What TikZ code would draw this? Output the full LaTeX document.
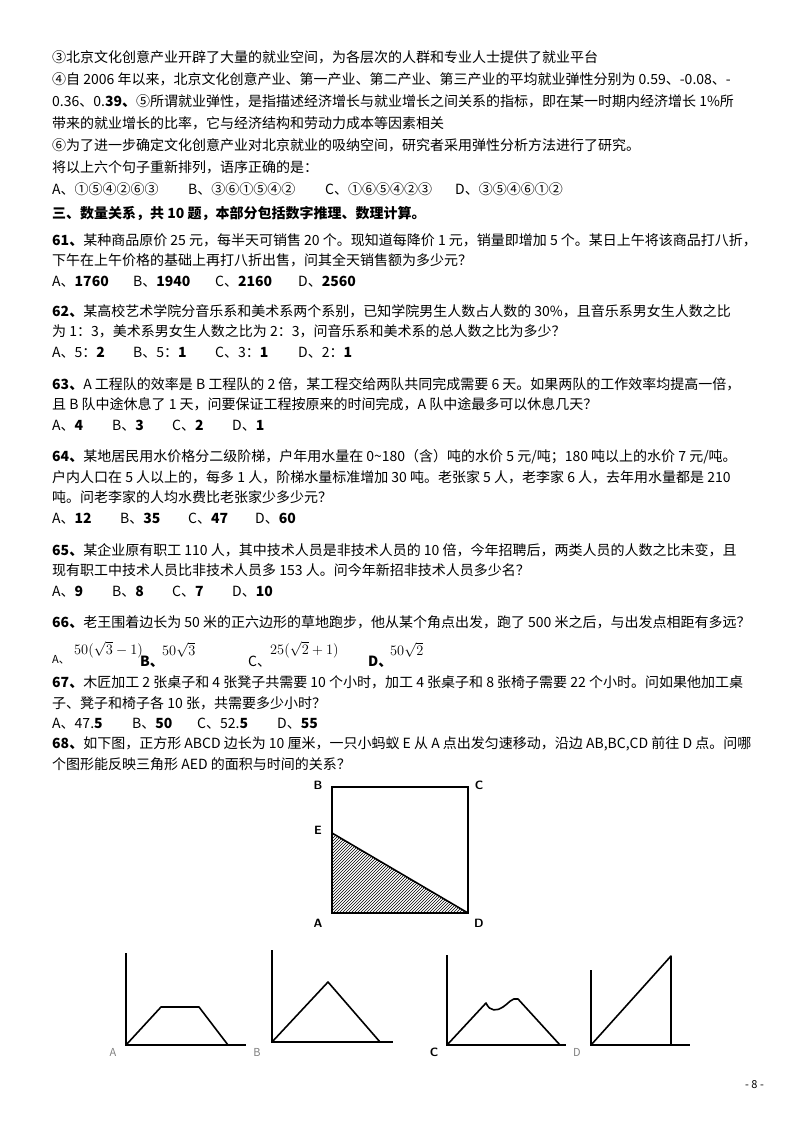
\documentclass[tikz,border=0pt]{standalone}
\usepackage{fontspec}
\setmainfont{Noto Sans CJK SC}
\usetikzlibrary{patterns}
\begin{document}
\begin{tikzpicture}[x=1pt,y=-1pt,
  t/.style={anchor=west,inner sep=0,font=\fontsize{14}{16}\selectfont},
  ax/.style={line width=2.2pt},
  cv/.style={line width=1.6pt,line join=round},
  lb/.style={font=\sffamily\bfseries\fontsize{12}{12}\selectfont,inner sep=0},
  gl/.style={font=\fontsize{11}{12}\selectfont,inner sep=0}]
\useasboundingbox (0,0) rectangle (800,1132);
\def\L#1#2#3{\node[t] at (#1,#2) {#3};}
\L{52}{57}{③北京文化创意产业开辟了大量的就业空间，为各层次的人群和专业人士提供了就业平台}
\L{52}{79}{④自 2006 年以来，北京文化创意产业、第一产业、第二产业、第三产业的平均就业弹性分别为 0.59、-0.08、-}
\L{52}{101}{0.36、0.\textbf{39、}⑤所谓就业弹性，是指描述经济增长与就业增长之间关系的指标，即在某一时期内经济增长 1\%所}
\L{52}{123}{带来的就业增长的比率，它与经济结构和劳动力成本等因素相关}
\L{52}{145}{⑥为了进一步确定文化创意产业对北京就业的吸纳空间，研究者采用弹性分析方法进行了研究。}
\L{52}{167}{将以上六个句子重新排列，语序正确的是：}
\L{52}{189}{A、①⑤④②⑥③}\L{188}{189}{B、③⑥①⑤④②}\L{325}{189}{C、①⑥⑤④②③}\L{455}{189}{D、③⑤④⑥①②}
\L{52}{214}{\bfseries 三、数量关系，共 10 题，本部分包括数字推理、数理计算。}
\L{52}{240}{\textbf{61、}某种商品原价 25 元，每半天可销售 20 个。现知道每降价 1 元，销量即增加 5 个。某日上午将该商品打八折，}
\L{52}{260}{下午在上午价格的基础上再打八折出售，问其全天销售额为多少元？}
\L{52}{282}{A、\textbf{1760}}\L{133}{282}{B、\textbf{1940}}\L{215}{282}{C、\textbf{2160}}\L{298}{282}{D、\textbf{2560}}
\L{52}{311}{\textbf{62、}某高校艺术学院分音乐系和美术系两个系别，已知学院男生人数占人数的 30\%，且音乐系男女生人数之比}
\L{52}{331}{为 1：3，美术系男女生人数之比为 2：3，问音乐系和美术系的总人数之比为多少？}
\L{52}{353}{A、5：\textbf{2}}\L{133}{353}{B、5：\textbf{1}}\L{215}{353}{C、3：\textbf{1}}\L{298}{353}{D、2：\textbf{1}}
\L{52}{384}{\textbf{63、}A 工程队的效率是 B 工程队的 2 倍，某工程交给两队共同完成需要 6 天。如果两队的工作效率均提高一倍，}
\L{52}{404}{且 B 队中途休息了 1 天，问要保证工程按原来的时间完成，A 队中途最多可以休息几天？}
\L{52}{426}{A、\textbf{4}}\L{112}{426}{B、\textbf{3}}\L{172}{426}{C、\textbf{2}}\L{232}{426}{D、\textbf{1}}
\L{52}{457}{\textbf{64、}某地居民用水价格分二级阶梯，户年用水量在 0\textasciitilde180（含）吨的水价 5 元/吨；180 吨以上的水价 7 元/吨。}
\L{52}{477}{户内人口在 5 人以上的，每多 1 人，阶梯水量标准增加 30 吨。老张家 5 人，老李家 6 人，去年用水量都是 210}
\L{52}{497}{吨。问老李家的人均水费比老张家少多少元？}
\L{52}{519}{A、\textbf{12}}\L{120}{519}{B、\textbf{35}}\L{188}{519}{C、\textbf{47}}\L{255}{519}{D、\textbf{60}}
\L{52}{550}{\textbf{65、}某企业原有职工 110 人，其中技术人员是非技术人员的 10 倍，今年招聘后，两类人员的人数之比未变，且}
\L{52}{570}{现有职工中技术人员比非技术人员多 153 人。问今年新招非技术人员多少名？}
\L{52}{592}{A、\textbf{9}}\L{112}{592}{B、\textbf{8}}\L{172}{592}{C、\textbf{7}}\L{232}{592}{D、\textbf{10}}
\L{52}{622}{\textbf{66、}老王围着边长为 50 米的正六边形的草地跑步，他从某个角点出发，跑了 500 米之后，与出发点相距有多远？}
\node[t] at (52,660) {\fontsize{11}{12}\selectfont A、};
\node[t] at (74,650) {\fontsize{15}{16}\selectfont $50(\sqrt{3}-1)$};
\node[t] at (140,662) {\bfseries B、};
\node[t] at (162,650) {\fontsize{15}{16}\selectfont $50\sqrt{3}$};
\node[t] at (248,662) {C、};
\node[t] at (270,650) {\fontsize{15}{16}\selectfont $25(\sqrt{2}+1)$};
\node[t] at (368,662) {\bfseries D、};
\node[t] at (390,650) {\fontsize{15}{16}\selectfont $50\sqrt{2}$};
\L{52}{682}{\textbf{67、}木匠加工 2 张桌子和 4 张凳子共需要 10 个小时，加工 4 张桌子和 8 张椅子需要 22 个小时。问如果他加工桌}
\L{52}{703}{子、凳子和椅子各 10 张，共需要多少小时？}
\L{52}{724}{A、47.\textbf{5}}\L{132}{724}{B、\textbf{50}}\L{197}{724}{C、52.\textbf{5}}\L{277}{724}{D、\textbf{55}}
\L{52}{744}{\textbf{68、}如下图，正方形 ABCD 边长为 10 厘米，一只小蚂蚁 E 从 A 点出发匀速移动，沿边 AB,BC,CD 前往 D 点。问哪}
\L{52}{764}{个图形能反映三角形 AED 的面积与时间的关系？}
% square
\coordinate (A) at (332,913); \coordinate (B) at (332,787);
\coordinate (C) at (468,787); \coordinate (D) at (468,913);
\coordinate (E) at (332,833);
\fill[pattern=north east lines] (A) -- (E) -- (D) -- cycle;
\draw[line width=1.6pt] (A) -- (B) -- (C) -- (D) -- cycle;
\draw[line width=1.6pt] (E) -- (D);
\node[lb] at (318,785) {B}; \node[lb] at (479,785) {C};
\node[lb] at (318,830) {E}; \node[lb] at (318,923) {A}; \node[lb] at (479,923) {D};
% graphs
\draw[ax] (126,953) -- (126,1045) -- (246,1045);
\draw[cv] (126,1045) -- (161,1007) -- (199,1007) -- (228,1045);
\node[gl,gray] at (113,1052) {A};
\draw[ax] (272,950) -- (272,1042) -- (393,1042);
\draw[cv] (272,1042) -- (328,982) -- (380,1042);
\node[gl,gray] at (257,1052) {B};
\draw[ax] (447,955) -- (447,1045) -- (566,1045);
\draw[cv] (447,1045) -- (486,1003) .. controls (490,1012) and (497,1011) .. (503,1007) .. controls (508,1004) and (512,997) .. (518,999) -- (560,1045);
\node[lb] at (434,1052) {C};
\draw[ax] (591,970) -- (591,1045) -- (690,1045);
\draw[cv] (591,1045) -- (671,956) -- (671,1045);
\node[gl,gray] at (577,1052) {D};
\node[t] at (745,1085) {\fontsize{11}{12}\selectfont - 8 -};
\end{tikzpicture}
\end{document}
